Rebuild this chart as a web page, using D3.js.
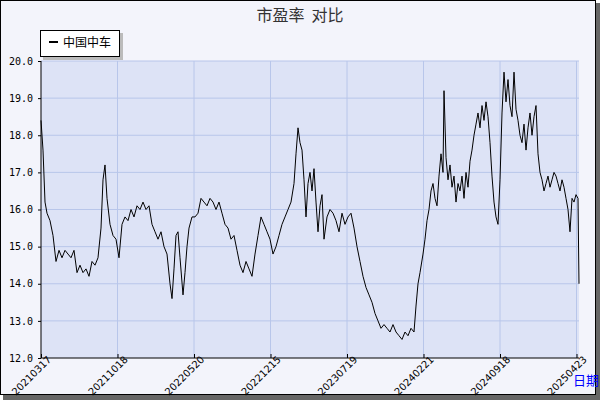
<!DOCTYPE html><html><head><meta charset="utf-8"><script src="https://cdn.jsdelivr.net/npm/d3@7"></script>
<style>body{margin:0;background:#fff}</style></head><body><svg id="c" width="600" height="400"></svg><script>
const tickDays=[0,153,306,459,612,765,918,1071];
const tickLabels=["20210317","20211018","20220520","20221215","20230719","20240221","20240918","20250423"];
const yTicks=[12,13,14,15,16,17,18,19,20];
const seriesName="中国中车";
const series=[[0,18.4],[4,17.6],[8,16.2],[12,15.9],[18,15.7],[24,15.3],[30,14.6],[36,14.9],[42,14.7],[48,14.9],[54,14.8],[60,14.7],[66,14.9],[72,14.3],[78,14.5],[84,14.3],[90,14.4],[96,14.2],[102,14.6],[108,14.5],[114,14.7],[120,15.5],[124,16.8],[128,17.2],[132,16.3],[138,15.6],[144,15.3],[150,15.2],[156,14.7],[162,15.6],[168,15.8],[174,15.7],[180,16.0],[186,15.8],[192,16.1],[198,16.0],[204,16.2],[210,16.0],[216,16.1],[222,15.6],[228,15.4],[234,15.2],[240,15.4],[246,15.0],[252,14.8],[258,14.0],[262,13.6],[266,14.4],[270,15.3],[274,15.4],[278,14.7],[284,13.7],[288,14.3],[292,15.0],[296,15.5],[302,15.8],[308,15.8],[314,15.9],[320,16.3],[326,16.2],[332,16.1],[338,16.3],[344,16.2],[350,16.0],[356,16.2],[362,15.9],[368,15.6],[374,15.5],[380,15.2],[386,15.3],[392,14.9],[398,14.5],[404,14.3],[410,14.6],[416,14.4],[422,14.2],[428,14.8],[434,15.3],[440,15.8],[446,15.6],[452,15.4],[458,15.2],[464,14.8],[470,15.0],[476,15.3],[482,15.6],[488,15.8],[494,16.0],[500,16.2],[506,16.7],[510,17.5],[514,18.2],[518,17.8],[522,17.6],[526,16.8],[530,15.8],[534,16.7],[538,17.0],[542,16.5],[546,17.1],[550,16.2],[554,15.4],[558,16.1],[562,16.4],[566,15.2],[572,15.8],[578,16.0],[584,15.9],[590,15.7],[596,15.4],[602,15.9],[608,15.6],[614,15.8],[620,15.9],[626,15.5],[632,15.0],[638,14.6],[644,14.2],[650,13.9],[656,13.7],[662,13.5],[668,13.2],[674,13.0],[680,12.8],[686,12.9],[692,12.8],[698,12.7],[704,12.9],[710,12.7],[716,12.6],[722,12.5],[728,12.7],[734,12.6],[740,12.8],[746,12.7],[750,13.4],[754,14.0],[758,14.3],[764,14.8],[768,15.2],[772,15.7],[776,16.0],[780,16.5],[784,16.7],[788,16.3],[792,16.1],[796,16.9],[800,17.5],[804,17.0],[806,19.2],[810,17.4],[814,16.8],[818,17.2],[822,16.6],[826,16.9],[830,16.2],[834,16.7],[838,16.5],[842,16.9],[846,16.3],[850,17.0],[854,16.6],[858,17.3],[862,17.6],[866,18.0],[870,18.3],[874,18.6],[878,18.2],[882,18.8],[886,18.4],[890,18.9],[894,18.5],[898,17.8],[902,16.9],[906,16.2],[910,15.8],[914,15.6],[918,16.8],[922,18.6],[926,19.7],[930,18.9],[934,19.5],[938,18.8],[942,18.5],[946,19.7],[950,18.7],[954,18.4],[958,18.0],[962,17.8],[966,18.3],[970,17.6],[974,18.2],[978,18.6],[982,18.0],[986,18.5],[990,18.8],[994,17.5],[998,17.0],[1002,16.8],[1006,16.5],[1010,16.7],[1014,16.9],[1018,16.6],[1022,16.8],[1026,17.0],[1030,16.9],[1034,16.7],[1038,16.5],[1042,16.8],[1046,16.6],[1050,16.3],[1054,16.0],[1058,15.4],[1062,16.3],[1066,16.2],[1070,16.4],[1074,16.3],[1076,14.0]];

const svg=d3.select("#c");
svg.append("rect").attr("x",3).attr("y",3).attr("width",597).attr("height",397).attr("fill","#666");
svg.append("rect").attr("x",0.5).attr("y",0.5).attr("width",595).attr("height",394).attr("fill","#f3f4fb").attr("stroke","#000");
const L=41,R=579,T=61,B=358;
const x=d3.scaleLinear().domain([0,1076]).range([L,R]);
const y=d3.scaleLinear().domain([12,20]).range([B,T]);
svg.append("rect").attr("x",L).attr("y",T).attr("width",R-L).attr("height",B-T).attr("fill","#dde3f6");
const g=svg.append("g");
g.selectAll(".vg").data(tickDays.slice(1)).join("line").attr("x1",d=>x(d)).attr("x2",d=>x(d)).attr("y1",T).attr("y2",B).attr("stroke","#b8c6ea");
g.selectAll(".hg").data(yTicks.slice(1)).join("line").attr("x1",L).attr("x2",R).attr("y1",d=>y(d)).attr("y2",d=>y(d)).attr("stroke","#b8c6ea");
svg.append("path").datum(series).attr("fill","none").attr("stroke","#000").attr("stroke-width",1)
 .attr("d",d3.line().x(d=>x(d[0])).y(d=>y(d[1])));
const ya=svg.append("g").attr("transform",`translate(${L},0)`).call(d3.axisLeft(y).tickValues(yTicks).tickSize(3).tickFormat(d3.format(".1f")));
ya.selectAll("text").attr("x",-8).style("font-family","DejaVu Sans Mono").style("font-size","10px");
const xa=svg.append("g").attr("transform",`translate(0,${B})`).call(d3.axisBottom(x).tickValues(tickDays).tickSize(-4).tickFormat((d,i)=>tickLabels[i]));
xa.select(".domain").attr("d",`M${L},0H${R}`);
xa.selectAll("text").attr("transform","rotate(-45)").attr("text-anchor","end").attr("dx","0.6em").attr("dy","0.9em").attr("y",0).attr("x",0).style("font-family","DejaVu Sans").style("font-size","10px");
ya.select(".domain").attr("d",`M0,${T}V${B}`);
svg.append("text").attr("x",300).attr("y",21).attr("text-anchor","middle").attr("xml:space","preserve").style("white-space","pre").style("font-family","Noto Sans CJK SC").style("font-size","16px").attr("fill","#333").text("市盈率  对比");
svg.append("rect").attr("x",43).attr("y",33).attr("width",80).attr("height",27).attr("fill","#bbb");
svg.append("rect").attr("x",40.5).attr("y",30.5).attr("width",79).attr("height",26).attr("fill","#fff").attr("stroke","#000");
svg.append("line").attr("x1",49).attr("x2",58).attr("y1",42).attr("y2",42).attr("stroke","#000").attr("stroke-width",2);
svg.append("text").attr("x",63).attr("y",47).style("font-family","Noto Sans CJK SC").style("font-size","12px").text(seriesName);
svg.append("text").attr("x",586).attr("y",385).attr("text-anchor","middle").attr("fill","#00f").style("font-family","Noto Sans CJK SC").style("font-size","13px").text("日期");
</script></body></html>
